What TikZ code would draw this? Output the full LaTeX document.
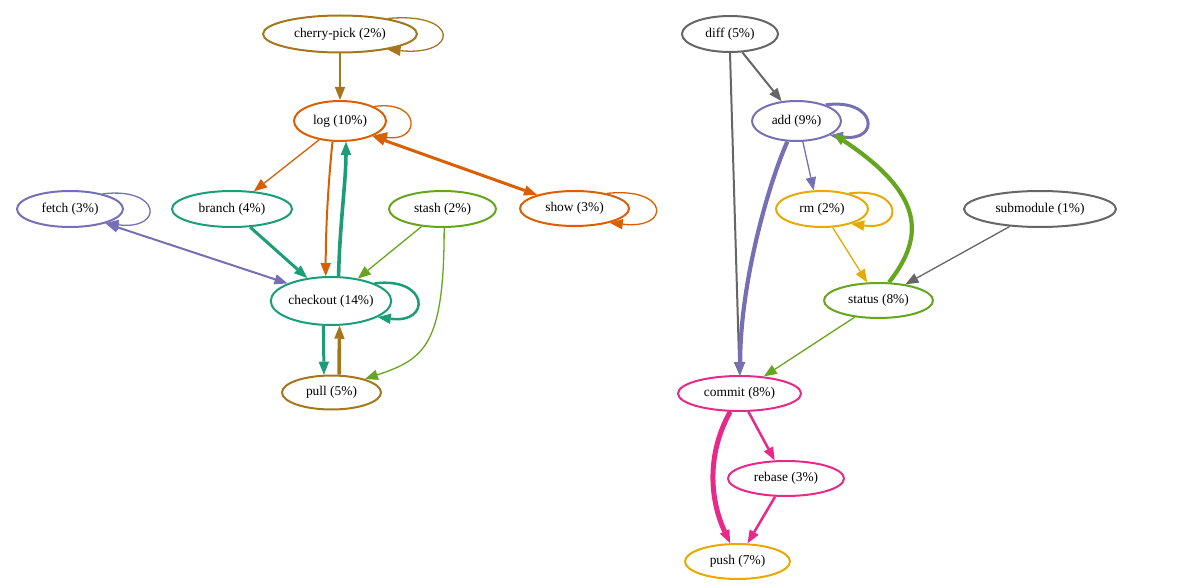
\documentclass[tikz,border=0pt]{standalone}
\usepackage{fontspec}
\setmainfont{Liberation Serif}
\usetikzlibrary{shapes.geometric,arrows.meta}
\definecolor{cteal}{HTML}{1B9E77}
\definecolor{corange}{HTML}{D95F02}
\definecolor{cpurple}{HTML}{7570B3}
\definecolor{cpink}{HTML}{E7298A}
\definecolor{cgreen}{HTML}{66A61E}
\definecolor{cyellow}{HTML}{E6AB02}
\definecolor{cbrown}{HTML}{A6761D}
\definecolor{cgray}{HTML}{666666}
\tikzset{
  gnode/.style={ellipse, draw=#1, line width=2pt, inner sep=0pt, text=black,
    font=\fontsize{13.4}{16}\selectfont},
  arr/.style={-{Triangle[length=13pt,width=10.5pt,line width=0pt]}},
  arrb/.style={{Triangle[length=13pt,width=10.5pt,line width=0pt]}-{Triangle[length=13pt,width=10.5pt,line width=0pt]}},
  wa/.style={line width=1.3pt},
  wb/.style={line width=2pt},
  wc/.style={line width=2.5pt},
  wd/.style={line width=3pt},
  we/.style={line width=3.6pt},
  wf/.style={line width=4.2pt},
  wg/.style={line width=5pt},
}
\begin{document}
\begin{tikzpicture}[x=1pt,y=-1pt]
\useasboundingbox (0,0) rectangle (1179,588);
% left component
\node[gnode=cbrown, minimum width=154pt, minimum height=37pt] (cp) at (340,34) {cherry-pick (2\%)};
\node[gnode=corange, minimum width=92pt, minimum height=40pt] (log) at (340,121) {log (10\%)};
\node[gnode=cpurple, minimum width=106pt, minimum height=36pt] (fetch) at (70,209) {fetch (3\%)};
\node[gnode=cteal, minimum width=120pt, minimum height=36pt] (branch) at (232,209) {branch (4\%)};
\node[gnode=cgreen, minimum width=107pt, minimum height=36pt] (stash) at (442.5,209) {stash (2\%)};
\node[gnode=corange, minimum width=109pt, minimum height=35pt] (show) at (574.5,208.5) {show (3\%)};
\node[gnode=cteal, minimum width=120pt, minimum height=48pt] (co) at (331,301) {checkout (14\%)};
\node[gnode=cbrown, minimum width=99pt, minimum height=34pt] (pull) at (331.5,392.5) {pull (5\%)};
% right component
\node[gnode=cgray, minimum width=96pt, minimum height=36pt] (diff) at (730,34) {diff (5\%)};
\node[gnode=cpurple, minimum width=89pt, minimum height=40pt] (add) at (796.5,121) {add (9\%)};
\node[gnode=cyellow, minimum width=92pt, minimum height=36pt] (rm) at (822,209) {rm (2\%)};
\node[gnode=cgray, minimum width=152pt, minimum height=36pt] (sub) at (1040,209) {submodule (1\%)};
\node[gnode=cgreen, minimum width=109pt, minimum height=35pt] (status) at (878.5,300.5) {status (8\%)};
\node[gnode=cpink, minimum width=123pt, minimum height=35pt] (commit) at (739.5,393.5) {commit (8\%)};
\node[gnode=cpink, minimum width=116pt, minimum height=35pt] (rebase) at (786,478.5) {rebase (3\%)};
\node[gnode=cyellow, minimum width=105pt, minimum height=35pt] (push) at (737.5,561.5) {push (7\%)};

% left edges
\draw[cbrown, wa, arr] (cp) -- (log);
\draw[cbrown, wa, arr] (cp.18) .. controls +(72,-7) and +(72,7) .. (cp.-18);
\draw[corange, wa, arr] (log.23) .. controls +(47,-7) and +(47,7) .. (log.-23);
\draw[corange, wa, arr] (log.-138) -- (branch.39);
\draw[corange, wb, arr] (log.-110) .. controls +(-4,40) and +(0,-50) .. (co.102);
\draw[cteal, we, arr] (co.73) .. controls +(1,-50) and +(0,40) .. (log.-74);
\draw[corange, wd, arrb] (log.-25) -- (show.160);
\draw[corange, wa, arr] (show.25) .. controls +(62,-7) and +(62,7) .. (show.-22);
\draw[cpurple, wa, arr] (fetch.25) .. controls +(59,-7) and +(59,7) .. (fetch.-22);
\draw[cpurple, wb, arrb] (fetch.-22) -- (co.158);
\draw[cteal, wd, arr] (branch.-45) -- (co.136);
\draw[cgreen, wa, arr] (stash.-140) -- (co.40);
\draw[cgreen, wa, arr] (stash.-85) .. controls +(0,117) and +(60,-20) .. (pull.22);
\draw[cteal, wc, arr] (co.22) .. controls +(54,-7) and +(54,7) .. (co.-19);
\draw[cteal, wd, arr] (co.-107) -- (pull.113);
\draw[cbrown, we, arr] (pull.67) -- (co.-71);

% right edges
\draw[cgray, wb, arr] (diff.-56) -- (add.127);
\draw[cgray, wb, arr] (diff.-90) -- (commit.90);
\draw[cpurple, wd, arr] (add.29) .. controls +(51,-7) and +(51,7) .. (add.-23);
\draw[cpurple, wa, arr] (add.-73) -- (rm.114);
\draw[cpurple, wf, arr] (add.-114) .. controls +(-20,45) and +(0,-90) .. (commit.88);
\draw[cyellow, wb, arr] (rm.30) .. controls +(54,-7) and +(54,7) .. (rm.-27);
\draw[cyellow, wa, arr] (rm.-60) -- (status.122);
\draw[cgreen, wf, arr] (status.60) .. controls +(37,-47) and +(90,60) .. (add.-19);
\draw[cgray, wa, arr] (sub.-150) -- (status.31);
\draw[cgreen, wa, arr] (status.-145) -- (commit.35);
\draw[cpink, wc, arr] (commit.-64) -- (rebase.122);
\draw[cpink, wg, arr] (commit.-117) .. controls +(-24,43) and +(-20,-43) .. (push.112);
\draw[cpink, wc, arr] (rebase.-121) -- (push.61);
\end{tikzpicture}
\end{document}
